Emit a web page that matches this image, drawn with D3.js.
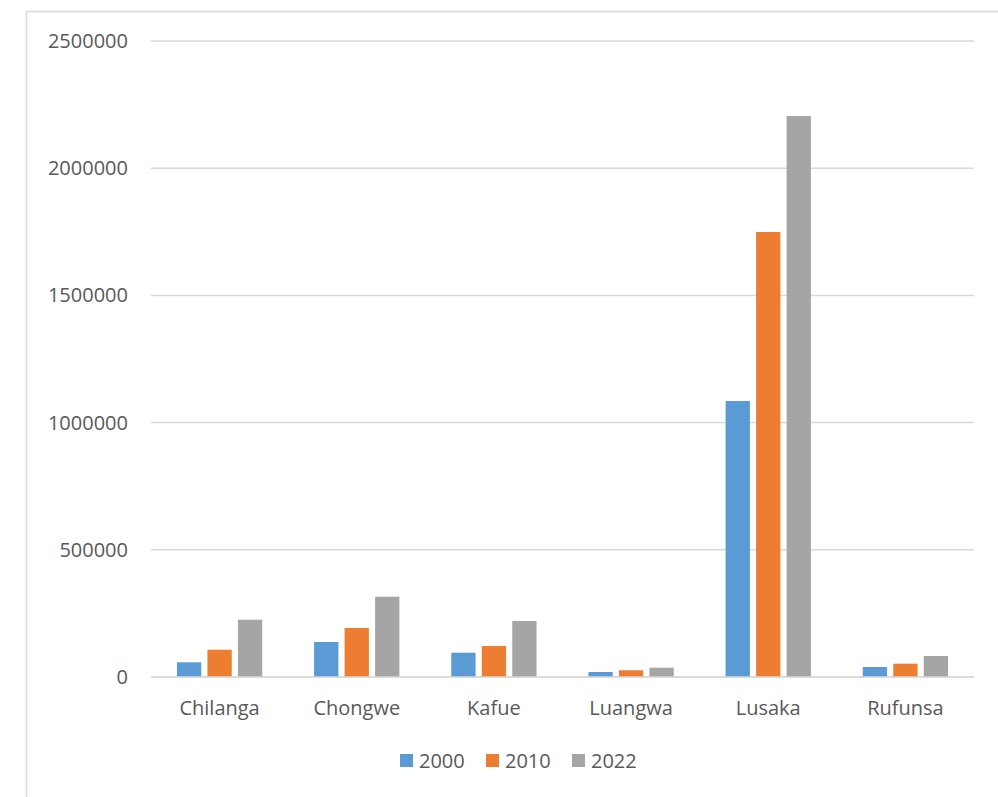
<!DOCTYPE html>
<html>
<head>
<meta charset="utf-8">
<script src="https://cdnjs.cloudflare.com/ajax/libs/d3/7.8.5/d3.min.js"></script>
<style>
body { margin: 0; background: #fff; }
text { font-family: "Open Sans", sans-serif; fill: #595959; }
</style>
</head>
<body>
<div id="chart"></div>
<script>
var w = 998, h = 797;

var districts = ["Chilanga", "Chongwe", "Kafue", "Luangwa", "Lusaka", "Rufunsa"];
var years = ["2000", "2010", "2022"];
var v2000 = [57800, 137600, 95500, 19700, 1084900, 39300];
var v2010 = [107300, 192600, 121900, 26300, 1749200, 52300];
var v2022 = [225200, 315600, 220100, 36600, 2205000, 82500];
var yTicks = [0, 500000, 1000000, 1500000, 2000000, 2500000];
var colors = ["#5b9bd5", "#ed7d31", "#a5a5a5"];

var series = [v2000, v2010, v2022];

var svg = d3.select("#chart")
	.append("svg")
	.attr("width", w)
	.attr("height", h);

// outer chart border (cut by the picture edge)
svg.append("rect")
	.attr("x", 26.5)
	.attr("y", 11.5)
	.attr("width", 1000)
	.attr("height", 800)
	.attr("fill", "none")
	.attr("stroke", "#d9d9d9")
	.attr("stroke-width", 1.5);

var pLeft = 151, pRight = 974, pTop = 41, pBottom = 677;

var x = d3.scaleBand()
	.domain(districts)
	.range([pLeft, pRight]);

var y = d3.scaleLinear()
	.domain([0, 2500000])
	.range([pBottom, pTop]);

var barW = 24.3, step = 30.5;

// gridlines
svg.selectAll(".grid")
	.data(yTicks)
	.enter()
	.append("line")
	.attr("x1", pLeft)
	.attr("x2", pRight)
	.attr("y1", function(d) { return y(d); })
	.attr("y2", function(d) { return y(d); })
	.attr("stroke", "#d9d9d9")
	.attr("stroke-width", 1.5);

// y labels
svg.selectAll(".ylab")
	.data(yTicks)
	.enter()
	.append("text")
	.text(function(d) { return d; })
	.attr("x", 128)
	.attr("y", function(d) { return y(d) + 7; })
	.attr("text-anchor", "end")
	.attr("font-size", 20);

// bars
series.forEach(function(vals, s) {
	svg.selectAll(".bar" + s)
		.data(vals)
		.enter()
		.append("rect")
		.attr("x", function(d, i) {
			return x(districts[i]) + x.bandwidth() / 2 + (s - 1) * step - barW / 2;
		})
		.attr("y", function(d) { return y(d); })
		.attr("width", barW)
		.attr("height", function(d) { return pBottom - y(d); })
		.attr("fill", colors[s]);
});

// axis line on top of bars
svg.append("line")
	.attr("x1", pLeft)
	.attr("x2", pRight)
	.attr("y1", pBottom)
	.attr("y2", pBottom)
	.attr("stroke", "#d9d9d9")
	.attr("stroke-width", 1.5);

// category labels
svg.selectAll(".xlab")
	.data(districts)
	.enter()
	.append("text")
	.text(function(d) { return d; })
	.attr("x", function(d) { return x(d) + x.bandwidth() / 2; })
	.attr("y", 715)
	.attr("text-anchor", "middle")
	.attr("font-size", 20);

// legend
var legX = [400, 486, 572];
years.forEach(function(yr, i) {
	svg.append("rect")
		.attr("x", legX[i])
		.attr("y", 754)
		.attr("width", 13)
		.attr("height", 13)
		.attr("fill", colors[i]);
	svg.append("text")
		.text(yr)
		.attr("x", legX[i] + 19)
		.attr("y", 768)
		.attr("font-size", 20);
});
</script>
</body>
</html>
